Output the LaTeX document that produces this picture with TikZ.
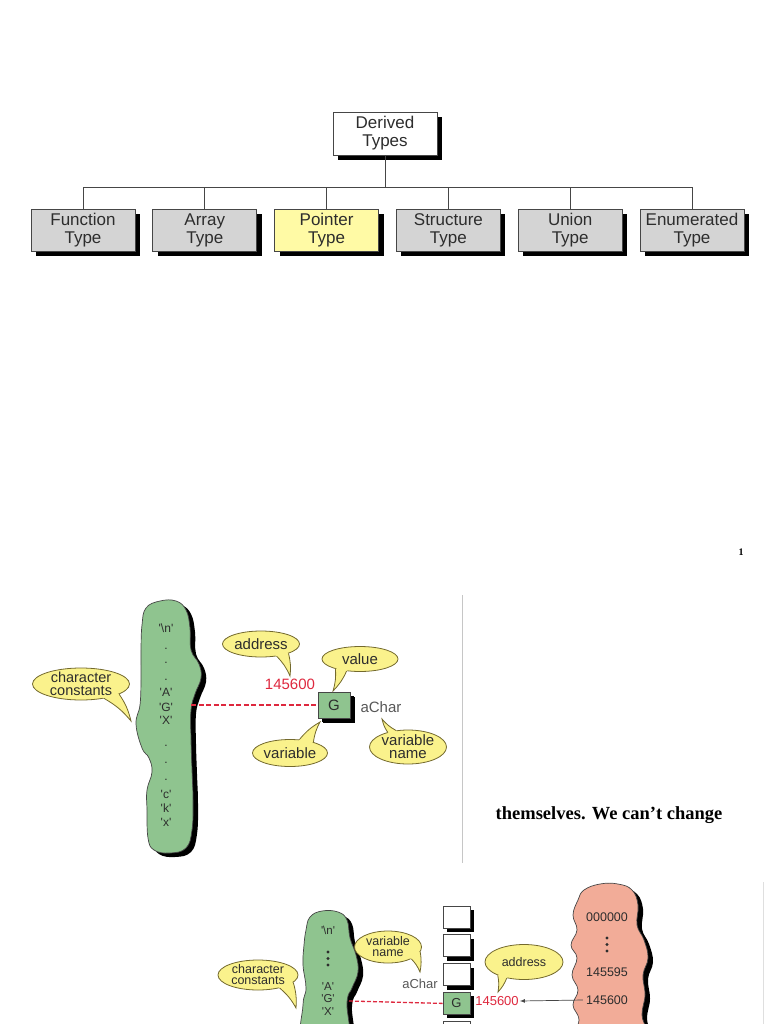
\documentclass[tikz,border=0pt]{standalone}
\usepackage{fontspec}
\setmainfont{Liberation Sans}
\newfontfamily\timesbf{Liberation Serif}
\usepackage{tikz}
\usetikzlibrary{positioning,shapes.geometric,shadows,calc,arrows}

\definecolor{boxgray}{RGB}{212,212,212}
\definecolor{pointeryellow}{RGB}{255,250,165}
\definecolor{bubblefill}{RGB}{250,242,140}
\definecolor{bubbleedge}{RGB}{115,105,45}
\definecolor{blobgreen}{RGB}{143,196,143}
\definecolor{blobpink}{RGB}{242,172,152}
\definecolor{constred}{RGB}{222,40,62}
\definecolor{textdark}{RGB}{45,45,45}
\definecolor{linegray}{RGB}{70,70,70}

% tail of a speech bubble: node, two border angles, tip, bend
\newcommand\bubbletail[5]{%
  \fill[bubblefill] ($(#1.#2)!.1!(#1.center)$) -- (#1.#2) to[bend left=#5] (#4) to[bend right=#5] (#1.#3) -- ($(#1.#3)!.1!(#1.center)$) -- cycle;
  \draw[bubbleedge, line width=0.8pt] (#1.#2) to[bend left=#5] (#4) to[bend right=#5] (#1.#3);}
\newcommand\q[1]{\textquotesingle#1\textquotesingle}

\begin{document}
\begin{tikzpicture}[x=1pt,y=-1pt,
typebox/.style={draw=linegray, line width=0.8pt, fill=boxgray, minimum width=104pt, minimum height=42pt, inner sep=0pt, align=center, text=textdark, font=\fontsize{17}{18}\selectfont, drop shadow={shadow xshift=5pt, shadow yshift=-5pt, fill=black, opacity=1}},
treeline/.style={draw=linegray, line width=1pt},
bubble/.style={ellipse, draw=bubbleedge, fill=bubblefill, line width=0.8pt, inner sep=-40pt, align=center, text=textdark},
cellbox/.style={draw=linegray, line width=0.8pt, fill=white, minimum width=27pt, minimum height=22pt, inner sep=0pt, text=textdark, font=\fontsize{13}{13}\selectfont, drop shadow={shadow xshift=4pt, shadow yshift=-4pt, fill=black, opacity=1}},
blobline/.style={draw=linegray, line width=0.7pt},
reddash/.style={draw=constred, line width=1.8pt, dash pattern=on 5pt off 2.5pt},
chartext/.style={align=center, text=textdark, inner sep=1pt},
]
\useasboundingbox (0,0) rectangle (768,1024);

%%% derived types tree
\node[typebox, fill=white, minimum height=43pt] (derived) at (385,133.5) {Derived\\Types};
\node[typebox] (function) at (83,230) {Function\\Type};
\node[typebox, right=17pt of function] (array) {Array\\Type};
\node[typebox, right=17pt of array, fill=pointeryellow] (pointer) {Pointer\\Type};
\node[typebox, right=17pt of pointer] (structure) {Structure\\Type};
\node[typebox, right=17pt of structure] (union) {Union\\Type};
\node[typebox, right=17pt of union] (enumerated) {Enumerated\\Type};
\draw[treeline] (derived.south) -- ++(0,32) -| (function.north);
\draw[treeline] (derived.south) -- ++(0,32) -| (array.north);
\draw[treeline] (derived.south) -- ++(0,32) -| (pointer.north);
\draw[treeline] (derived.south) -- ++(0,32) -| (structure.north);
\draw[treeline] (derived.south) -- ++(0,32) -| (union.north);
\draw[treeline] (derived.south) -- ++(0,32) -| (enumerated.north);

\node[font=\timesbf\bfseries\fontsize{10}{10}\selectfont] (pagenum) at (741,552) {1};

%%% character constants and one variable
\fill[black, shift={(5,4)}] plot[smooth cycle, tension=0.7] coordinates {(146,608) (160,601) (176,601) (186,610) (190,628) (191,650) (199,664) (201,678) (195,694) (191,710) (191,740) (192,770) (193,800) (192,830) (186,848) (170,853) (154,850) (148,838) (147,810) (147,790) (152,772) (149,758) (142,748) (136,724) (140,705) (141,680) (141,650) (142,625)};
\draw[blobline, fill=blobgreen] plot[smooth cycle, tension=0.7] coordinates {(146,608) (160,601) (176,601) (186,610) (190,628) (191,650) (199,664) (201,678) (195,694) (191,710) (191,740) (192,770) (193,800) (192,830) (186,848) (170,853) (154,850) (148,838) (147,810) (147,790) (152,772) (149,758) (142,748) (136,724) (140,705) (141,680) (141,650) (142,625)};
\node[chartext, font=\fontsize{12}{14}\selectfont] (chars1) at (166,725) {\q{\textbackslash n}\\[3pt] .\\ .\\[3pt] .\\[2pt] \q{A}\\[1pt] \q{G}\\[-1pt] \q{X}\\[8pt] .\\[3pt] .\\[3pt] .\\[4pt] \q{c}\\ \q{k}\\ \q{x}};
\coordinate (edge1) at (191,705);

\node[cellbox, fill=blobgreen, minimum width=32pt, minimum height=26pt, font=\fontsize{15}{15}\selectfont, drop shadow={shadow xshift=5pt, shadow yshift=-5pt, fill=black, opacity=1}] (gvar1) at (334,705) {G};
\draw[reddash] (edge1) -- (gvar1.west);
\node[text=constred, font=\fontsize{15}{15}\selectfont] (num1) at (290,684) {145600};
\node[text=textdark!80, font=\fontsize{15}{15}\selectfont] (name1) at (381,707) {aChar};

\node[bubble, minimum width=97pt, minimum height=32pt, font=\fontsize{14.5}{12.5}\selectfont] (cc1) at (81,684) {character\\constants};
\bubbletail{cc1}{-32}{-15}{131,721}{10}
\node[bubble, minimum width=77pt, minimum height=26pt, font=\fontsize{15}{15}\selectfont] (ad1) at (261,644) {address};
\bubbletail{ad1}{-38}{-19}{290,676}{10}
\node[bubble, minimum width=76pt, minimum height=25pt, font=\fontsize{15}{15}\selectfont] (val1) at (360,659) {value};
\bubbletail{val1}{-158}{-138}{333,691}{10}
\node[bubble, minimum width=75pt, minimum height=27pt, font=\fontsize{15}{15}\selectfont] (var1) at (290,753) {variable};
\bubbletail{var1}{55}{25}{320,722}{10}
\node[bubble, minimum width=77pt, minimum height=34pt, font=\fontsize{15}{13}\selectfont] (vn1) at (408,747) {variable\\name};
\bubbletail{vn1}{144}{126}{382,719}{10}

\draw[gray!45, line width=1pt] (462,595) -- (462,863);
\node[font=\timesbf\bfseries\fontsize{18.5}{18.5}\selectfont] (caption) at (609,815) {themselves. We can’t change};

%%% memory cells with addresses
\fill[black, shift={(5,4)}] plot[smooth cycle, tension=0.7] coordinates {(306,930) (310,917) (322,911) (338,912) (347,920) (350,938) (356,955) (358,972) (352,988) (347,1002) (346,1045) (304,1045) (303,1005) (306,988) (303,965) (304,945)};
\draw[blobline, fill=blobgreen] plot[smooth cycle, tension=0.7] coordinates {(306,930) (310,917) (322,911) (338,912) (347,920) (350,938) (356,955) (358,972) (352,988) (347,1002) (346,1045) (304,1045) (303,1005) (306,988) (303,965) (304,945)};
\node[chartext, font=\fontsize{11.5}{12}\selectfont] (nl2) at (328,930) {\q{\textbackslash n}};
\fill[textdark] (328,952) circle (1.6) (328,958.5) circle (1.6) (328,965) circle (1.6);
\node[chartext, font=\fontsize{11.5}{12.5}\selectfont] (agx2) at (328,999) {\q{A}\\\q{G}\\\q{X}};
\coordinate (edge2) at (349,1001);

\fill[black, shift={(5,4)}] plot[smooth cycle, tension=0.7] coordinates {(584,890) (600,884) (618,884) (632,890) (638,905) (637,925) (644,940) (648,958) (643,975) (645,995) (642,1015) (644,1045) (576,1045) (579,1020) (573,1005) (578,990) (572,975) (577,958) (571,945) (577,930) (573,915) (578,900)};
\draw[blobline, fill=blobpink] plot[smooth cycle, tension=0.7] coordinates {(584,890) (600,884) (618,884) (632,890) (638,905) (637,925) (644,940) (648,958) (643,975) (645,995) (642,1015) (644,1045) (576,1045) (579,1020) (573,1005) (578,990) (572,975) (577,958) (571,945) (577,930) (573,915) (578,900)};
\node[chartext, font=\fontsize{12.5}{12.5}\selectfont] (addr0) at (607,917) {000000};
\fill[textdark] (607,938) circle (1.6) (607,944.5) circle (1.6) (607,951) circle (1.6);
\node[chartext, font=\fontsize{12.5}{12.5}\selectfont] (addr95) at (607,972) {145595};
\node[chartext, font=\fontsize{12.5}{12.5}\selectfont, inner sep=3pt] (addr00) at (607,1000) {145600};

\node[cellbox] (cell1) at (456.5,917) {};
\node[cellbox, below=6pt of cell1] (cell2) {};
\node[cellbox, below=6pt of cell2] (cell3) {};
\node[cellbox, below=6pt of cell3, fill=blobgreen] (gvar2) {G};
\node[cellbox, below=6pt of gvar2] (cell5) {};
\draw[reddash, line width=1.3pt, dash pattern=on 4pt off 2pt] (edge2) -- (gvar2.west);

\node[text=constred, font=\fontsize{13}{13}\selectfont, inner sep=1pt] (num2) at (497,1001) {145600};
\node[text=textdark!80, font=\fontsize{13}{13}\selectfont] (name2) at (420,984) {aChar};
\draw[-latex, line width=0.7pt, linegray] (addr00.west) -- (num2.east);

\node[bubble, minimum width=80pt, minimum height=30pt, font=\fontsize{12.5}{11}\selectfont] (cc2) at (258,975) {character\\constants};
\bubbletail{cc2}{-31}{-12}{296,1008}{10}
\node[bubble, minimum width=67pt, minimum height=32pt, font=\fontsize{12.5}{11}\selectfont] (vn2) at (388,947) {variable\\name};
\bubbletail{vn2}{-27}{-9}{420,972}{10}
\node[bubble, minimum width=78pt, minimum height=35pt, font=\fontsize{12.5}{12.5}\selectfont] (ad2) at (524,962) {address};
\bubbletail{ad2}{-153}{-137}{498,992}{10}

\draw[gray!25, line width=1pt] (763,882) -- (763,1030);
\end{tikzpicture}
\end{document}
